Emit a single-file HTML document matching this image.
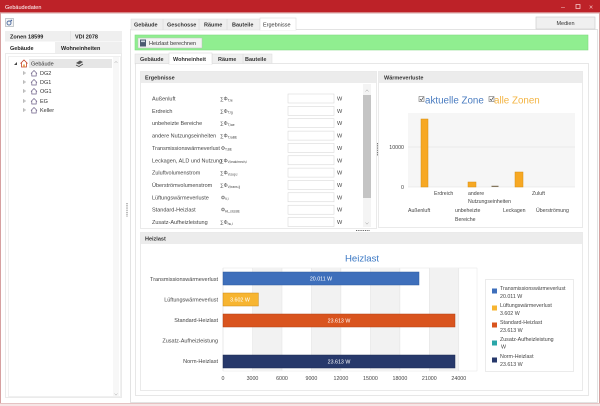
<!DOCTYPE html>
<html><head><meta charset="utf-8"><style>
html,body{margin:0;padding:0;background:#fff;}
svg{display:block;}
</style></head><body>
<svg width="600" height="406" viewBox="0 0 600 406" font-family="Liberation Sans, Arial, sans-serif" font-size="5.5" xmlns="http://www.w3.org/2000/svg">
<rect x="0" y="0" width="600" height="406" fill="#ffffff"/>
<!-- title bar -->
<rect x="0" y="0" width="600" height="13" fill="#bd2228"/>
<rect x="0" y="12" width="600" height="1.5" fill="#d4686b"/>
<text x="5" y="9" fill="#ffffff" font-size="5.5">Gebäudedaten</text>
<text x="561" y="9" fill="#f4c6c6" font-size="7">–</text>
<rect x="576" y="4.5" width="4" height="4" fill="none" stroke="#f4c6c6" stroke-width="0.8"/>
<text x="589" y="9.5" fill="#f4c6c6" font-size="7">×</text>
<!-- window border -->
<rect x="0.5" y="13" width="599" height="390.5" fill="none" stroke="#d6a0a0" stroke-width="1"/>
<rect x="0" y="403.5" width="600" height="2.5" fill="#f6e6e6"/>

<!-- LEFT PANEL -->
<rect x="5.5" y="18.5" width="8" height="8" fill="#f4f4f4" stroke="#a0a8b0" stroke-width="0.6"/>
<circle cx="9" cy="23" r="2" fill="none" stroke="#4a6aa0" stroke-width="0.9"/>
<circle cx="11.3" cy="20.5" r="0.9" fill="#4a6aa0"/>

<rect x="5" y="31" width="117" height="10.5" fill="#efefef"/>
<line x1="70.5" y1="31" x2="70.5" y2="41.5" stroke="#dcdcdc" stroke-width="0.6"/>
<text x="10" y="38.5" font-weight="bold" fill="#222">Zonen 18599</text>
<text x="75" y="38.5" font-weight="bold" fill="#222">VDI 2078</text>
<rect x="5" y="42" width="117" height="11" fill="#efefef"/>
<rect x="5" y="42" width="50" height="11.5" fill="#ffffff"/>
<text x="10" y="50" font-weight="bold" fill="#222">Gebäude</text>
<text x="61" y="50" font-weight="bold" fill="#222">Wohneinheiten</text>

<rect x="5.5" y="53.5" width="116" height="344" fill="#ffffff" stroke="#dedede" stroke-width="0.6"/>
<rect x="8.5" y="56.5" width="112" height="340" fill="#ffffff" stroke="#e6e6e6" stroke-width="0.6"/>
<!-- tree scrollbar -->
<rect x="113" y="57" width="6" height="339" fill="#f7f7f7"/>
<path d="M114.5 63 L116 61.3 L117.5 63" fill="none" stroke="#a8a8a8" stroke-width="0.5"/>
<path d="M114.5 393.5 L116 395.2 L117.5 393.5" fill="none" stroke="#a8a8a8" stroke-width="0.5"/>
<!-- tree rows -->
<rect x="29" y="59" width="83" height="9" fill="#e6e6e6"/>
<path d="M14 65 L17 65 L17 62 Z" fill="#444"/>
<path d="M20.5 63.5 L24 60 L27.5 63.5 M21.5 62.8 V67 H26.5 V62.8" fill="none" stroke="#c6442a" stroke-width="0.8"/>
<rect x="23.3" y="64.5" width="1.4" height="2.5" fill="#e0922a"/>
<text x="31" y="65.5" fill="#333">Gebäude</text>
<g transform="translate(76,60)">
<path d="M0 3 L4 0.5 L7 2 L3 4.5 Z" fill="#555"/>
<path d="M0 5 L3 6.5 L7 4" fill="none" stroke="#444" stroke-width="0.8"/>
</g>
<g fill="none" stroke="#6b5e86" stroke-width="0.7">
<path d="M31 73.5 L34 70.5 L37 73.5 M31.8 73 V76 H36.2 V73"/>
<path d="M31 82.5 L34 79.5 L37 82.5 M31.8 82 V85 H36.2 V82"/>
<path d="M31 91.5 L34 88.5 L37 91.5 M31.8 91 V94 H36.2 V91"/>
<path d="M31 101.5 L34 98.5 L37 101.5 M31.8 101 V104 H36.2 V101"/>
<path d="M31 110.5 L34 107.5 L37 110.5 M31.8 110 V113 H36.2 V110"/>
</g>
<g fill="none" stroke="#777" stroke-width="0.5">
<path d="M23.5 71.5 L25.5 73 L23.5 74.5 Z"/>
<path d="M23.5 80.5 L25.5 82 L23.5 83.5 Z"/>
<path d="M23.5 89.5 L25.5 91 L23.5 92.5 Z"/>
<path d="M23.5 99.5 L25.5 101 L23.5 102.5 Z"/>
<path d="M23.5 108.5 L25.5 110 L23.5 111.5 Z"/>
</g>
<g fill="#333">
<text x="40" y="75">DG2</text>
<text x="40" y="84">DG1</text>
<text x="40" y="93">OG1</text>
<text x="40" y="103">EG</text>
<text x="40" y="112">Keller</text>
</g>
<!-- splitter -->
<line x1="127" y1="203" x2="127" y2="217" stroke="#555" stroke-width="0.9" stroke-dasharray="0.9,0.9"/>

<!-- RIGHT AREA -->
<rect x="130.5" y="29.5" width="467" height="373" fill="#ffffff" stroke="#d8d8d8" stroke-width="0.7"/>
<rect x="131" y="19" width="129" height="11" fill="#efefef" stroke="#dadada" stroke-width="0.5"/>
<g stroke="#d6d6d6" stroke-width="0.5">
<line x1="163" y1="19" x2="163" y2="30"/>
<line x1="199" y1="19" x2="199" y2="30"/>
<line x1="227" y1="19" x2="227" y2="30"/>
</g>
<rect x="260" y="18" width="36" height="12" fill="#ffffff" stroke="#d5d5d5" stroke-width="0.5"/>
<line x1="260.3" y1="29.6" x2="295.7" y2="29.6" stroke="#fff" stroke-width="1"/>
<g font-weight="bold" fill="#333">
<text x="134" y="26.5">Gebäude</text>
<text x="167" y="26.5">Geschosse</text>
<text x="204" y="26.5">Räume</text>
<text x="232" y="26.5">Bauteile</text>
</g>
<text x="263" y="26.5" fill="#333">Ergebnisse</text>
<rect x="536" y="17" width="59" height="12" fill="#f0f0f0" stroke="#c8c8c8" stroke-width="0.6"/>
<text x="565.5" y="25" text-anchor="middle" fill="#333">Medien</text>

<!-- green bar -->
<rect x="135" y="35" width="453" height="15" fill="#90ee90" stroke="#82d982" stroke-width="0.6"/>
<rect x="138" y="38" width="64" height="10" fill="#f3f3f3" stroke="#b8c0b8" stroke-width="0.5"/>
<rect x="140" y="39.5" width="6" height="7" fill="#4b5a70"/>
<rect x="141" y="40.5" width="4" height="1.6" fill="#cdd6e0"/>
<text x="149" y="45" fill="#333">Heizlast berechnen</text>

<!-- sub tabs -->
<rect x="135" y="54" width="137" height="10" fill="#efefef" stroke="#dadada" stroke-width="0.5"/>
<line x1="212" y1="54" x2="212" y2="64" stroke="#d6d6d6" stroke-width="0.5"/>
<line x1="243" y1="54" x2="243" y2="64" stroke="#d6d6d6" stroke-width="0.5"/>
<rect x="135.5" y="63.5" width="453" height="332" fill="#ffffff" stroke="#d8d8d8" stroke-width="0.6"/>
<rect x="169" y="53" width="43" height="11.2" fill="#ffffff" stroke="#d5d5d5" stroke-width="0.5"/>
<line x1="169.3" y1="63.8" x2="211.7" y2="63.8" stroke="#fff" stroke-width="1"/>
<g font-weight="bold" fill="#333">
<text x="140" y="61">Gebäude</text>
<text x="173" y="61">Wohneinheit</text>
<text x="218" y="61">Räume</text>
<text x="245" y="61">Bauteile</text>
</g>

<!-- Ergebnisse panel -->
<rect x="140.5" y="71.5" width="236" height="157" fill="#ffffff" stroke="#dcdcdc" stroke-width="0.6"/>
<rect x="141" y="72" width="235" height="11" fill="#ececec"/>
<text x="145" y="79.5" font-weight="bold" fill="#333">Ergebnisse</text>
<g fill="#444">
<text x="152" y="100.5">Außenluft</text>
<text x="152" y="112.9">Erdreich</text>
<text x="152" y="125.2">unbeheizte Bereiche</text>
<text x="152" y="137.6">andere Nutzungseinheiten</text>
<text x="152" y="149.9">Transmissionswärmeverlust</text>
<text x="152" y="162.3">Leckagen, ALD und Nutzung</text>
<text x="152" y="174.6">Zuluftvolumenstrom</text>
<text x="152" y="187">Überströmvolumenstrom</text>
<text x="152" y="199.3">Lüftungswärmeverluste</text>
<text x="152" y="211.7">Standard-Heizlast</text>
<text x="152" y="224">Zusatz-Aufheizleistung</text>
</g>
<g fill="#444" font-size="5">
<text x="220" y="100.5">∑Φ<tspan font-size="3.3" dy="0.8">T,ie</tspan></text>
<text x="220" y="112.9">∑Φ<tspan font-size="3.3" dy="0.8">T,ig</tspan></text>
<text x="220" y="125.2">∑Φ<tspan font-size="3.3" dy="0.8">T,iae</tspan></text>
<text x="220" y="137.6">∑Φ<tspan font-size="3.3" dy="0.8">T,iaBE</tspan></text>
<text x="221" y="149.9">Φ<tspan font-size="3.3" dy="0.8">T,BE</tspan></text>
<text x="220" y="162.3">∑Φ<tspan font-size="3.3" dy="0.8">V,leak/mech,i</tspan></text>
<text x="220" y="174.6">∑Φ<tspan font-size="3.3" dy="0.8">V,sup,i</tspan></text>
<text x="220" y="187">∑Φ<tspan font-size="3.3" dy="0.8">V,trans,ij</tspan></text>
<text x="221" y="199.3">Φ<tspan font-size="3.3" dy="0.8">V,i</tspan></text>
<text x="221" y="211.7">Φ<tspan font-size="3.3" dy="0.8">HL,std,BE</tspan></text>
<text x="220" y="224">∑Φ<tspan font-size="3.3" dy="0.8">hu,i</tspan></text>
</g>
<g fill="#ffffff" stroke="#d2d2d2" stroke-width="0.5">
<rect x="288" y="94" width="46" height="9"/>
<rect x="288" y="106.4" width="46" height="9"/>
<rect x="288" y="118.7" width="46" height="9"/>
<rect x="288" y="131.1" width="46" height="9"/>
<rect x="288" y="143.4" width="46" height="9"/>
<rect x="288" y="155.8" width="46" height="9"/>
<rect x="288" y="168.1" width="46" height="9"/>
<rect x="288" y="180.5" width="46" height="9"/>
<rect x="288" y="192.8" width="46" height="9"/>
<rect x="288" y="205.2" width="46" height="9"/>
<rect x="288" y="217.5" width="46" height="9"/>
</g>
<g fill="#444">
<text x="337" y="100.5">W</text>
<text x="337" y="112.9">W</text>
<text x="337" y="125.2">W</text>
<text x="337" y="137.6">W</text>
<text x="337" y="149.9">W</text>
<text x="337" y="162.3">W</text>
<text x="337" y="174.6">W</text>
<text x="337" y="187">W</text>
<text x="337" y="199.3">W</text>
<text x="337" y="211.7">W</text>
<text x="337" y="224">W</text>
</g>
<rect x="363" y="84" width="8" height="143" fill="#f4f4f4"/>
<rect x="363" y="95" width="8" height="103" fill="#c4c4c4"/>
<path d="M365.5 91.5 L367 89.8 L368.5 91.5" fill="none" stroke="#999" stroke-width="0.5"/>
<path d="M365.5 222.5 L367 224.2 L368.5 222.5" fill="none" stroke="#999" stroke-width="0.5"/>
<line x1="377.5" y1="143" x2="377.5" y2="156" stroke="#555" stroke-width="0.9" stroke-dasharray="0.9,0.9"/>
<line x1="356" y1="230.5" x2="370" y2="230.5" stroke="#555" stroke-width="0.9" stroke-dasharray="0.9,0.9"/>

<!-- Wärmeverluste panel -->
<rect x="378.5" y="71.5" width="204" height="156" fill="#ffffff" stroke="#dcdcdc" stroke-width="0.6"/>
<rect x="379" y="72" width="203" height="11" fill="#ececec"/>
<text x="384" y="79.5" font-weight="bold" fill="#333">Wärmeverluste</text>
<rect x="419" y="96.5" width="5" height="5" fill="#fff" stroke="#555" stroke-width="0.5"/>
<path d="M420 99 L421.3 100.5 L423.3 97.3" fill="none" stroke="#333" stroke-width="0.6"/>
<text x="425" y="103.5" font-size="9.8" fill="#4a7cc0">aktuelle Zone</text>
<rect x="489" y="96.5" width="5" height="5" fill="#fff" stroke="#555" stroke-width="0.5"/>
<path d="M490 99 L491.3 100.5 L493.3 97.3" fill="none" stroke="#333" stroke-width="0.6"/>
<text x="494" y="103.5" font-size="9.8" fill="#f3b443">alle Zonen</text>
<rect x="408" y="113" width="167" height="74" fill="#f6f6f6"/>
<line x1="408" y1="147" x2="575" y2="147" stroke="#dcdcdc" stroke-width="0.6"/>
<line x1="408" y1="187" x2="575" y2="187" stroke="#e0e0e0" stroke-width="0.5"/>
<text x="404" y="149" text-anchor="end" fill="#444" font-size="5.3">10000</text>
<text x="404" y="189" text-anchor="end" fill="#444" font-size="5.3">0</text>
<g fill="#f7a823" stroke="#d68f15" stroke-width="0.5">
<rect x="421" y="119" width="7" height="68"/>
<rect x="468" y="182" width="8" height="5"/>
<rect x="515" y="172" width="8" height="15"/>
</g>
<rect x="491.5" y="185.8" width="7" height="1" fill="#6b5a3a"/>
<g fill="#444" font-size="5.2">
<text x="434" y="195">Erdreich</text>
<text x="468" y="195">andere</text>
<text x="468" y="203">Nutzungseinheiten</text>
<text x="532" y="195">Zuluft</text>
<text x="408" y="212">Außenluft</text>
<text x="455" y="212">unbeheizte</text>
<text x="455" y="221">Bereiche</text>
<text x="503" y="212">Leckagen</text>
<text x="536" y="212">Überströmung</text>
</g>

<!-- Heizlast panel -->
<rect x="140.5" y="232.5" width="442" height="158" fill="#ffffff" stroke="#dcdcdc" stroke-width="0.6"/>
<rect x="141" y="233" width="441" height="11" fill="#ececec"/>
<text x="145" y="240.5" font-weight="bold" fill="#333">Heizlast</text>
<text x="362" y="261.5" text-anchor="middle" font-size="9.6" fill="#3b78c4">Heizlast</text>
<rect x="223" y="268" width="254" height="103" fill="#ffffff" stroke="#e6e6e6" stroke-width="0.5"/>
<g fill="#f2f2f2">
<rect x="252.5" y="268" width="29.5" height="103"/>
<rect x="311.4" y="268" width="29.5" height="103"/>
<rect x="370.4" y="268" width="29.5" height="103"/>
<rect x="429.3" y="268" width="29.5" height="103"/>
</g>
<g stroke="#e2e2e2" stroke-width="0.5">
<line x1="223" y1="268" x2="223" y2="371"/>
<line x1="252.5" y1="268" x2="252.5" y2="371"/>
<line x1="282" y1="268" x2="282" y2="371"/>
<line x1="311.4" y1="268" x2="311.4" y2="371"/>
<line x1="340.9" y1="268" x2="340.9" y2="371"/>
<line x1="370.4" y1="268" x2="370.4" y2="371"/>
<line x1="399.9" y1="268" x2="399.9" y2="371"/>
<line x1="429.3" y1="268" x2="429.3" y2="371"/>
<line x1="458.8" y1="268" x2="458.8" y2="371"/>
</g>
<rect x="223" y="272" width="196" height="13" fill="#3e6fbb" stroke="#2e5a9c" stroke-width="0.5"/>
<rect x="223" y="293" width="35.4" height="13" fill="#f7b531" stroke="#c98a1a" stroke-width="0.5"/>
<rect x="223" y="314" width="232" height="13" fill="#d9541e" stroke="#b04015" stroke-width="0.5"/>
<rect x="223" y="355" width="232" height="13" fill="#27396b" stroke="#1b2a52" stroke-width="0.5"/>
<g fill="#ffffff" font-size="5.3" text-anchor="middle">
<text x="321" y="280.5">20.011 W</text>
<text x="240" y="301.5">3.602 W</text>
<text x="339" y="322.5">23.613 W</text>
<text x="339" y="363.5">23.613 W</text>
</g>
<g fill="#444" text-anchor="end">
<text x="218" y="281">Transmissionswärmeverlust</text>
<text x="218" y="301.5">Lüftungswärmeverlust</text>
<text x="218" y="322">Standard-Heizlast</text>
<text x="218" y="342.5">Zusatz-Aufheizleistung</text>
<text x="218" y="363">Norm-Heizlast</text>
</g>
<g fill="#444" text-anchor="middle" font-size="5.3">
<text x="223" y="380">0</text>
<text x="252.5" y="380">3000</text>
<text x="282" y="380">6000</text>
<text x="311.4" y="380">9000</text>
<text x="340.9" y="380">12000</text>
<text x="370.4" y="380">15000</text>
<text x="399.9" y="380">18000</text>
<text x="429.3" y="380">21000</text>
<text x="458.8" y="380">24000</text>
</g>
<!-- legend -->
<rect x="485.5" y="279.5" width="88" height="92" fill="#ffffff" stroke="#dedede" stroke-width="0.6"/>
<rect x="492" y="288.5" width="5" height="5" fill="#3e6fbb"/>
<rect x="492" y="305.5" width="5" height="5" fill="#f7b531"/>
<rect x="492" y="322.5" width="5" height="5" fill="#d9541e"/>
<rect x="492" y="340.5" width="5" height="5" fill="#2aa6a8"/>
<rect x="492" y="357.5" width="5" height="5" fill="#27396b"/>
<g fill="#444" font-size="5.3">
<text x="500" y="290">Transmissionswärmeverlust</text>
<text x="500" y="298">20.011 W</text>
<text x="500" y="307">Lüftungswärmeverlust</text>
<text x="500" y="315">3.602 W</text>
<text x="500" y="324">Standard-Heizlast</text>
<text x="500" y="332">23.613 W</text>
<text x="500" y="341">Zusatz-Aufheizleistung</text>
<text x="501" y="348.5"> W</text>
<text x="500" y="358">Norm-Heizlast</text>
<text x="500" y="366">23.613 W</text>
</g>
</svg>
</body></html>
